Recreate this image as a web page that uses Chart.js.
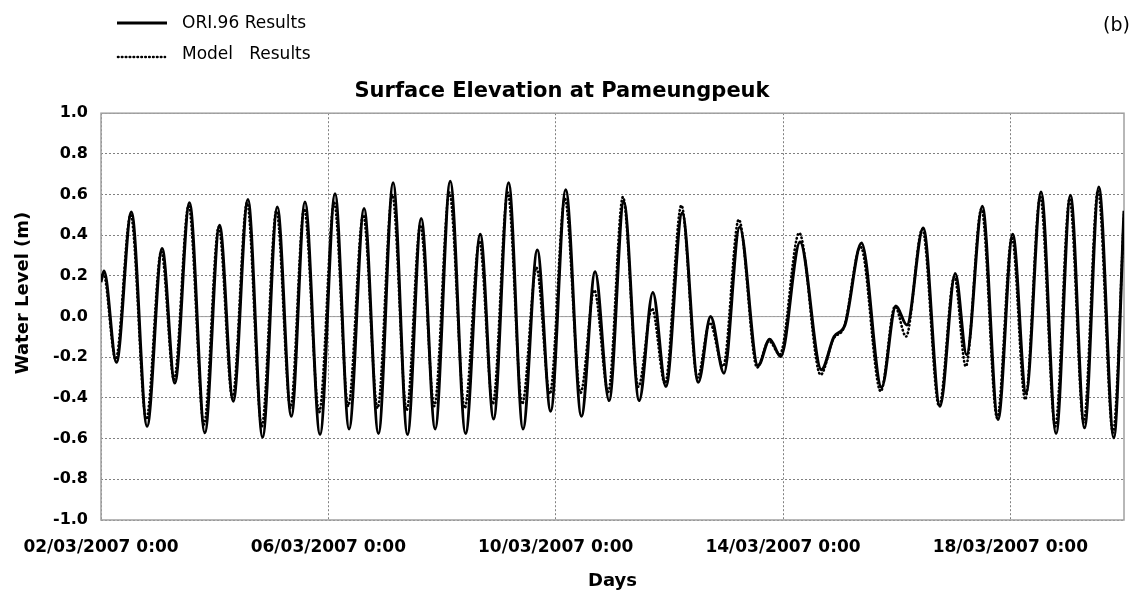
<!DOCTYPE html>
<html>
<head>
<meta charset="utf-8">
<title>Surface Elevation at Pameungpeuk</title>
<script src="https://cdn.jsdelivr.net/npm/chart.js@4.4.1/dist/chart.umd.min.js"></script>
<style>
  html, body { margin: 0; padding: 0; background: #fff; }
  #wrap { position: relative; width: 1137px; height: 592px; }
</style>
</head>
<body>
<div id="wrap"><canvas id="tide"></canvas></div>
<script>
// time in days after 02/03/2007 0:00, level in m, read at each high / low water
const oriDays = [0.000, 0.053, 0.271, 0.535, 0.811, 1.075, 1.299, 1.557, 1.827, 2.086,
  2.327, 2.585, 2.843, 3.102, 3.349, 3.589, 3.854, 4.118, 4.365, 4.629,
  4.882, 5.140, 5.393, 5.634, 5.880, 6.145, 6.415, 6.673, 6.908, 7.172,
  7.425, 7.677, 7.912, 8.177, 8.453, 8.694, 8.940, 9.199, 9.469, 9.710,
  9.939, 10.227, 10.509, 10.726, 10.961, 11.237, 11.560, 11.766, 11.960, 12.300,
  12.676, 12.900, 13.090, 13.381, 13.734, 13.986, 14.180, 14.467, 14.761, 15.031,
  15.231, 15.507, 15.783, 16.042, 16.277, 16.541, 16.805, 17.058, 17.305, 17.557,
  17.821, 18.000];
const oriLevel = [0.17, 0.224, -0.225, 0.514, -0.539, 0.335, -0.327, 0.560, -0.571, 0.449,
  -0.416, 0.576, -0.593, 0.539, -0.490, 0.563, -0.580, 0.604, -0.552, 0.531,
  -0.575, 0.658, -0.580, 0.482, -0.552, 0.666, -0.575, 0.405, -0.503, 0.658,
  -0.552, 0.327, -0.465, 0.624, -0.490, 0.220, -0.413, 0.563, -0.413, 0.118,
  -0.343, 0.509, -0.323, 0.000, -0.278, 0.441, -0.242, -0.111, -0.196, 0.367,
  -0.261, -0.098, -0.041, 0.362, -0.348, 0.052, -0.041, 0.436, -0.441, 0.212,
  -0.188, 0.542, -0.506, 0.405, -0.376, 0.612, -0.575, 0.596, -0.547, 0.637,
  -0.596, 0.52];

const modelDays = [0.000, 0.040, 0.258, 0.522, 0.797, 1.060, 1.285, 1.542, 1.812, 2.071,
  2.312, 2.570, 2.828, 3.087, 3.334, 3.574, 3.839, 4.103, 4.350, 4.614,
  4.867, 5.125, 5.378, 5.619, 5.865, 6.130, 6.400, 6.658, 6.893, 7.157,
  7.410, 7.662, 7.897, 8.162, 8.438, 8.679, 8.925, 9.184, 9.454, 9.695,
  9.924, 10.212, 10.494, 10.711, 10.946, 11.222, 11.545, 11.751, 11.945, 12.285,
  12.661, 12.885, 13.075, 13.366, 13.719, 13.971, 14.165, 14.452, 14.746, 15.016,
  15.216, 15.492, 15.768, 16.027, 16.262, 16.526, 16.790, 17.043, 17.290, 17.542,
  17.806, 18.000];
const modelLevel = [0.20, 0.215, -0.210, 0.500, -0.505, 0.320, -0.310, 0.545, -0.530, 0.440,
  -0.400, 0.560, -0.540, 0.520, -0.450, 0.530, -0.470, 0.560, -0.440, 0.500,
  -0.450, 0.600, -0.460, 0.450, -0.440, 0.610, -0.450, 0.370, -0.430, 0.610,
  -0.430, 0.240, -0.380, 0.580, -0.375, 0.130, -0.370, 0.588, -0.345, 0.040,
  -0.330, 0.547, -0.300, -0.030, -0.245, 0.477, -0.250, -0.120, -0.185, 0.411,
  -0.286, -0.110, -0.050, 0.343, -0.367, 0.050, -0.098, 0.430, -0.440, 0.196,
  -0.245, 0.530, -0.498, 0.390, -0.408, 0.590, -0.540, 0.580, -0.520, 0.620,
  -0.570, 0.50];

const tickDays = [0, 4, 8, 12, 16];
const tickLabels = ['02/03/2007 0:00', '06/03/2007 0:00', '10/03/2007 0:00', '14/03/2007 0:00', '18/03/2007 0:00'];
const seriesNames = ['ORI.96 Results', 'Model   Results'];

const dotDash = [0.5, 3.4];
const toPoints = (xs, ys) => xs.map((x, i) => ({ x: x, y: ys[i] }));

Chart.defaults.font.family = "'DejaVu Sans', sans-serif";
Chart.defaults.color = '#000';

// frame, solid zero line, legend, panel tag and y title
const decor = {
  id: 'decor',
  beforeDatasetsDraw(chart) {
    const { ctx, chartArea: a } = chart;
    const y0 = chart.scales.y.getPixelForValue(0);
    ctx.save();
    ctx.strokeStyle = '#a0a0a0';
    ctx.lineWidth = 1;
    ctx.beginPath();
    ctx.moveTo(a.left, y0);
    ctx.lineTo(a.right, y0);
    ctx.stroke();
    ctx.lineWidth = 1.5;
    ctx.strokeRect(a.left, a.top, a.right - a.left, a.bottom - a.top);
    ctx.restore();
  },
  afterDraw(chart) {
    const ctx = chart.ctx;
    ctx.save();
    ctx.strokeStyle = '#000';
    ctx.lineCap = 'butt';
    ctx.lineWidth = 3;
    ctx.beginPath();
    ctx.moveTo(117, 23);
    ctx.lineTo(167, 23);
    ctx.stroke();
    ctx.lineWidth = 2.6;
    ctx.lineCap = 'round';
    ctx.setLineDash(dotDash);
    ctx.beginPath();
    ctx.moveTo(118, 57);
    ctx.lineTo(165, 57);
    ctx.stroke();
    ctx.setLineDash([]);

    ctx.fillStyle = '#000';
    ctx.textBaseline = 'middle';
    ctx.textAlign = 'left';
    ctx.font = "17px 'DejaVu Sans'";
    ctx.fillText(seriesNames[0], 182, 24);
    ctx.fillText(seriesNames[1], 182, 55);

    ctx.textAlign = 'right';
    ctx.font = "19px 'DejaVu Sans'";
    ctx.fillText('(b)', 1130, 26);

    ctx.translate(23, 293);
    ctx.rotate(-Math.PI / 2);
    ctx.textAlign = 'center';
    ctx.font = "bold 18px 'DejaVu Sans'";
    ctx.fillText('Water Level (m)', 0, 0);
    ctx.restore();
  }
};

new Chart(document.getElementById('tide'), {
  type: 'line',
  data: {
    datasets: [
      {
        label: seriesNames[0],
        data: toPoints(oriDays, oriLevel),
        borderColor: '#000',
        borderWidth: 3,
        pointRadius: 0,
        cubicInterpolationMode: 'monotone',
        tension: 0.4,
        order: 1
      },
      {
        label: seriesNames[1],
        data: toPoints(modelDays, modelLevel),
        borderColor: '#000',
        borderWidth: 2.6,
        borderDash: dotDash,
        borderCapStyle: 'round',
        pointRadius: 0,
        cubicInterpolationMode: 'monotone',
        tension: 0.4,
        order: 0
      }
    ]
  },
  options: {
    responsive: true,
    maintainAspectRatio: false,
    animation: false,
    events: [],
    layout: { padding: { left: 0, right: 13, top: 0, bottom: 0 } },
    plugins: {
      legend: { display: false },
      tooltip: { enabled: false },
      title: {
        display: true,
        text: 'Surface Elevation at Pameungpeuk',
        font: { size: 21, weight: 'bold' },
        padding: { top: 79, bottom: 9 }
      }
    },
    scales: {
      x: {
        type: 'linear',
        min: 0,
        max: 18,
        afterBuildTicks: (s) => { s.ticks = tickDays.map(v => ({ value: v })); },
        afterFit: (s) => { s.height = 72; },
        ticks: {
          padding: 17,
          maxRotation: 0,
          autoSkip: false,
          font: { size: 17, weight: 'bold' },
          callback: (v, i) => tickLabels[i]
        },
        grid: { color: '#808080', lineWidth: 1, drawTicks: false },
        border: { display: false, dash: [2, 2] },
        title: {
          display: true,
          text: 'Days',
          font: { size: 18, weight: 'bold' },
          padding: { top: 0, bottom: 0 }
        }
      },
      y: {
        min: -1,
        max: 1,
        afterFit: (s) => { s.width = 101; },
        ticks: {
          stepSize: 0.2,
          padding: 13,
          font: { size: 16, weight: 'bold' },
          callback: (v) => (Math.abs(v) < 1e-9 ? 0 : v).toFixed(1)
        },
        grid: { color: '#808080', lineWidth: 1, drawTicks: false },
        border: { display: false, dash: [2, 2] }
      }
    }
  },
  plugins: [decor]
});
</script>
</body>
</html>
